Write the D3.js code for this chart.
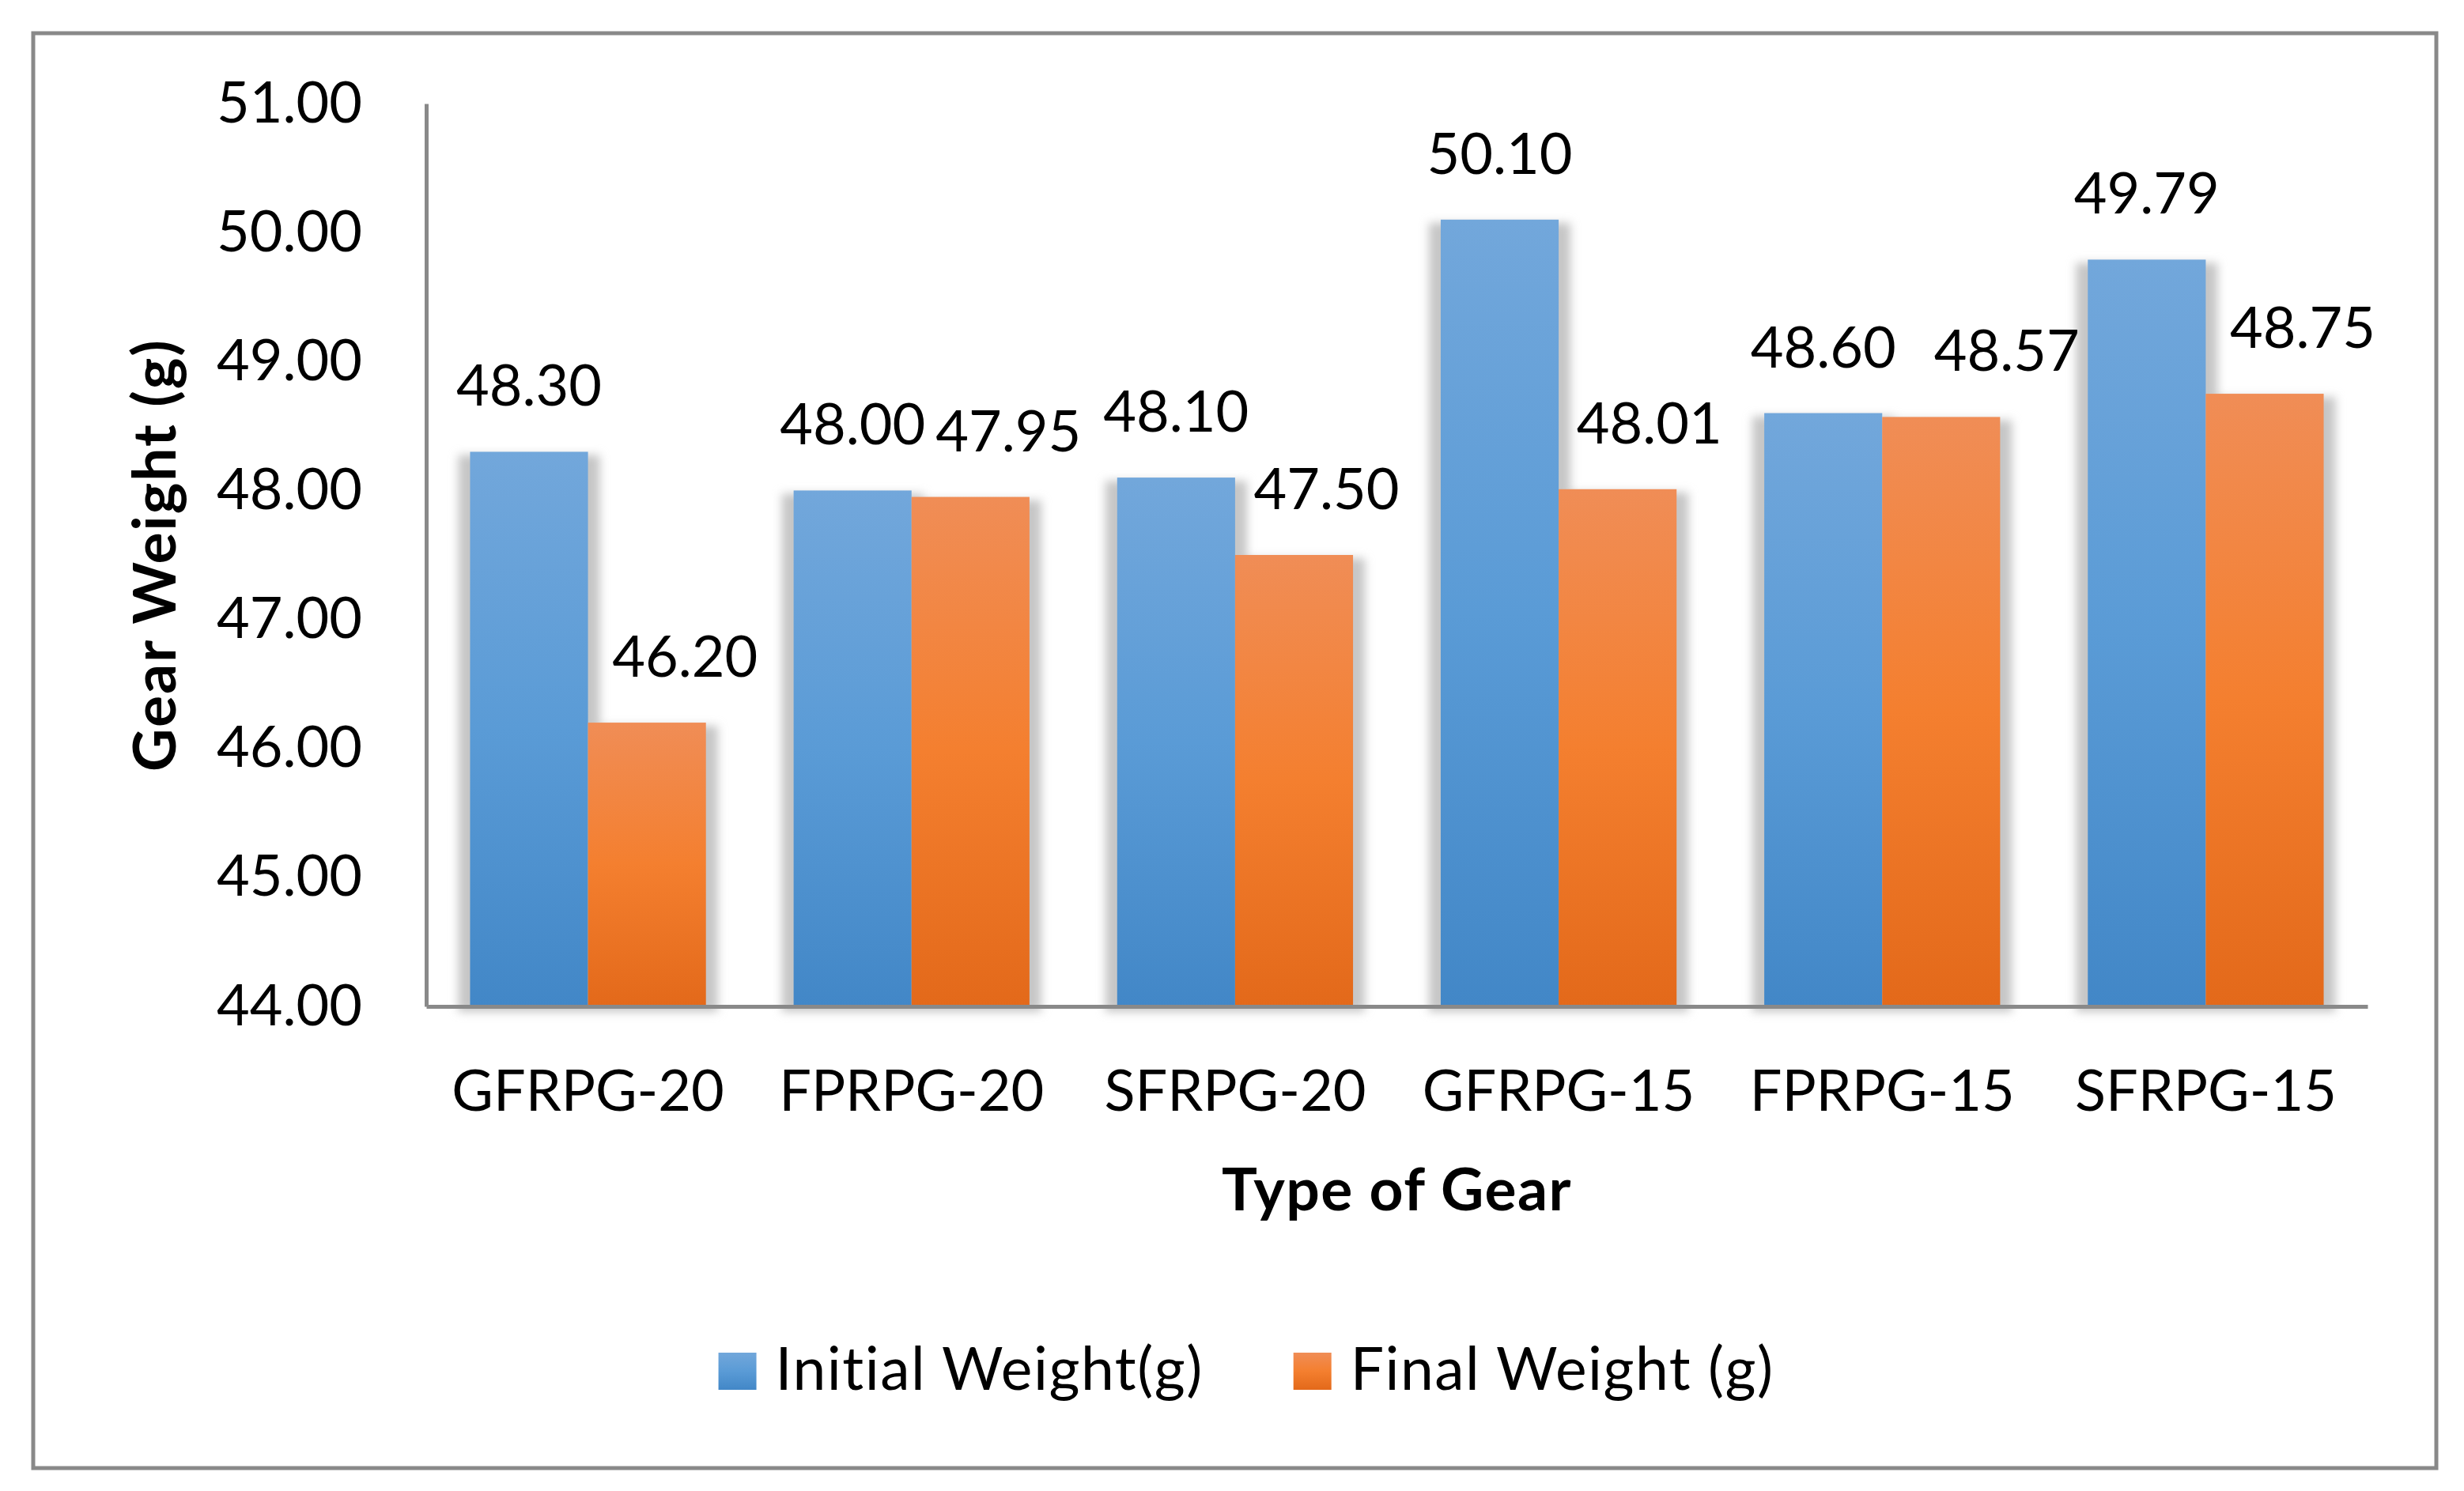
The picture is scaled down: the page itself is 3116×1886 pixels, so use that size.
<!DOCTYPE html>
<html lang="en">
<head>
<meta charset="utf-8">
<title>Gear Weight</title>
<script src="https://d3js.org/d3.v7.min.js"></script>
<style>
    body { margin: 0; background: #fff; }
    svg text { font-family: Lato, "Open Sans", sans-serif; fill: #000; }
    .axis path { stroke: #898989; stroke-width: 5px; }
    .axis text { font-size: 72px; }
</style>
</head>
<body>
<div id="chart"></div>
<script>
// data
const gears = ["GFRPG-20", "FPRPG-20", "SFRPG-20", "GFRPG-15", "FPRPG-15", "SFRPG-15"];
const initialWeight = [48.30, 48.00, 48.10, 50.10, 48.60, 49.79];
const finalWeight = [46.20, 47.95, 47.50, 48.01, 48.57, 48.75];
const seriesNames = ["Initial Weight(g)", "Final Weight (g)"];
const yTicks = [44, 45, 46, 47, 48, 49, 50, 51];

const W = 3116, H = 1886;
const plot = {left: 539, right: 2994, top: 131, bottom: 1273};

// the final-weight labels sit a bit right of their bars, as in the original
const finalLabelShift = [48, 48, 41, 40, 83, 48];

const svg = d3.select("#chart").append("svg")
    .attr("width", W).attr("height", H);

const defs = svg.append("defs");
const grads = [
    {id: "gBlue", stops: ["#72a7db", "#5a9bd6", "#4287c7"]},
    {id: "gOrange", stops: ["#f08d56", "#f47f2f", "#e3691a"]}
];
grads.forEach(g => {
    const lg = defs.append("linearGradient").attr("id", g.id)
        .attr("x1", 0).attr("y1", 0).attr("x2", 0).attr("y2", 1);
    g.stops.forEach((c, i) => lg.append("stop")
        .attr("offset", i / (g.stops.length - 1)).attr("stop-color", c));
});
defs.append("filter").attr("id", "blur")
    .attr("x", "-50%").attr("y", "-20%").attr("width", "200%").attr("height", "140%")
  .append("feGaussianBlur").attr("stdDeviation", 6);

// outer frame
svg.append("rect")
    .attr("x", 42).attr("y", 42).attr("width", 3039).attr("height", 1815)
    .attr("fill", "#fff").attr("stroke", "#898989").attr("stroke-width", 5);

const x0 = d3.scaleBand().domain(gears)
    .range([plot.left, plot.right])
    .paddingInner(0.271).paddingOuter(0.1355);
const x1 = d3.scaleBand().domain([0, 1]).range([0, x0.bandwidth()]);
const y = d3.scaleLinear().domain([44, 51]).range([plot.bottom, plot.top]);

const rows = [];
gears.forEach((g, i) => {
    rows.push({gear: g, i: i, s: 0, v: initialWeight[i]});
    rows.push({gear: g, i: i, s: 1, v: finalWeight[i]});
});

// shadows first, so bars sit on top of them
svg.append("g").attr("filter", "url(#blur)")
  .selectAll("rect").data(rows).join("rect")
    .attr("x", d => x0(d.gear) + x1(d.s) - 15)
    .attr("y", d => y(d.v) + 4)
    .attr("width", x1.bandwidth() + 30)
    .attr("height", d => y(44) - y(d.v) + 3)
    .attr("fill", "#c6c6c6");

svg.append("g")
  .selectAll("rect").data(rows).join("rect")
    .attr("x", d => x0(d.gear) + x1(d.s))
    .attr("y", d => y(d.v))
    .attr("width", x1.bandwidth())
    .attr("height", d => y(44) - y(d.v))
    .attr("fill", d => `url(#${grads[d.s].id})`);

// axes
svg.append("g").attr("class", "axis")
    .attr("transform", `translate(${plot.left},0)`)
    .call(d3.axisLeft(y).tickValues(yTicks).tickFormat(d3.format(".2f"))
        .tickSize(0).tickPadding(81))
    .call(g => g.selectAll(".tick line").remove());

svg.append("g").attr("class", "axis")
    .attr("transform", `translate(0,${plot.bottom})`)
    .call(d3.axisBottom(x0).tickSize(0).tickPadding(81))
    .call(g => g.selectAll(".tick line").remove());

// data labels
svg.append("g")
  .selectAll("text").data(rows).join("text")
    .attr("x", d => x0(d.gear) + x1(d.s) + x1.bandwidth() / 2 + (d.s ? finalLabelShift[d.i] : 0))
    .attr("y", d => y(d.v) - 58)
    .attr("text-anchor", "middle")
    .attr("font-size", 72)
    .text(d => d.v.toFixed(2));

// axis titles
svg.append("text")
    .attr("x", (plot.left + plot.right) / 2).attr("y", 1531)
    .attr("text-anchor", "middle")
    .attr("font-size", 75).attr("font-weight", "bold").attr("letter-spacing", 1.5)
    .text("Type of Gear");

svg.append("text")
    .attr("transform", `translate(222,${(plot.top + plot.bottom) / 2}) rotate(-90)`)
    .attr("text-anchor", "middle")
    .attr("font-size", 75).attr("font-weight", "bold").attr("letter-spacing", 2)
    .text("Gear Weight (g)");

// legend
const legend = svg.append("g");
let lx = 0;
seriesNames.forEach((name, i) => {
    const item = legend.append("g").attr("transform", `translate(${lx},0)`);
    item.append("rect")
        .attr("x", 0).attr("y", -47).attr("width", 48).attr("height", 47)
        .attr("fill", `url(#${grads[i].id})`);
    const t = item.append("text")
        .attr("x", 72).attr("y", 0)
        .attr("font-size", 75).attr("letter-spacing", 1.5)
        .text(name);
    lx += 72 + t.node().getComputedTextLength() + 114;
});
const legendWidth = lx - 114;
legend.attr("transform", `translate(${1576 - legendWidth / 2},1758)`);
</script>
</body>
</html>
